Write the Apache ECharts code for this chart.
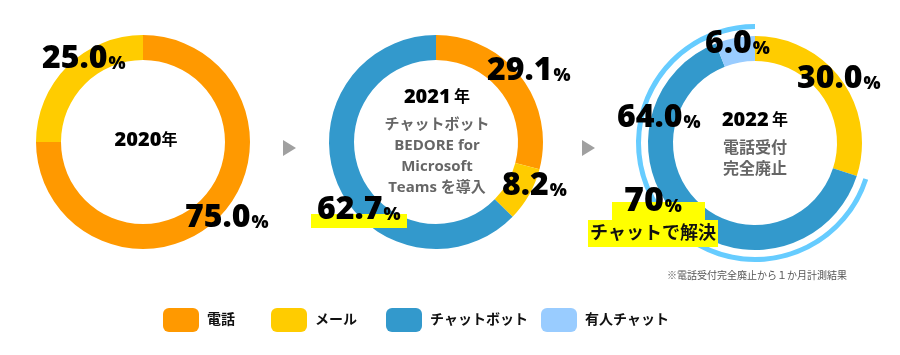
<!DOCTYPE html>
<html><head><meta charset="utf-8">
<script src="https://cdn.jsdelivr.net/npm/echarts@6/dist/echarts.min.js"></script>
<style>html,body{margin:0;padding:0;background:#fff}#c{width:900px;height:355px}</style>
</head><body><div id="c"></div>
<script>
// ---- data ----
const categories = ['電話', 'メール', 'チャットボット', '有人チャット'];
const colors = ['#FF9900', '#FFCC00', '#3399CC', '#99CCFF'];
const yearTitles = ['2020年', '2021 年', '2022 年'];
const share2020 = [75.0, 25.0, 0, 0];
const share2021 = [29.1, 8.2, 62.7, 0];
const share2022 = [0, 30.0, 64.0, 6.0];
const resolvedByChat2022 = 70;
const subtitle2021 = ['チャットボット', 'BEDORE for', 'Microsoft', 'Teams を導入'];
const subtitle2022 = ['電話受付', '完全廃止'];
const note2022 = '※電話受付完全廃止から１か月計測結果';
const resolvedText = 'チャットで解決';

// ---- layout ----
const FONT = '"Open Sans","Noto Sans CJK JP",sans-serif';
const centers = [[143, 142], [436, 142], [755, 143]];
const radius = [82, 107];
const shares = [share2020, share2021, share2022];
// label positions (left x, bottom y of digits) per pie per category
const labelPos = [
  [[185, 234], [42, 75]],
  [[487, 87], [502, 202], [317, 226]],
  [null, [797, 95], [617, 134], [705, 60]]
];
const legendLeft = [163, 271, 386, 541];

function pieData(arr) {
  const out = [];
  arr.forEach((v, i) => { if (v > 0) out.push({ name: categories[i], value: v, itemStyle: { color: colors[i] } }); });
  return out;
}

const series = shares.map((arr, k) => ({
  type: 'pie', center: centers[k], radius: radius, startAngle: 90, clockwise: true,
  label: { show: false }, labelLine: { show: false }, silent: true, animation: false,
  data: pieData(arr)
}));
// outer highlight arc: chat share in 2022
series.push({
  type: 'pie', center: centers[2], radius: [114, 119], clockwise: true, silent: true, animation: false,
  startAngle: 90 - 360 * share2022[1] / 100,
  label: { show: false }, labelLine: { show: false },
  data: [
    { name: 'chat-total', value: resolvedByChat2022, itemStyle: { color: '#66CCFF' } },
    { name: 'rest', value: 100 - resolvedByChat2022, itemStyle: { color: 'rgba(0,0,0,0)' } }
  ]
});

const graphics = [];
const rich = {
  n: { fontFamily: FONT, fontWeight: 800, fontSize: 32, color: '#111', verticalAlign: 'bottom', lineHeight: 32 },
  p: { fontFamily: FONT, fontWeight: 800, fontSize: 18, color: '#111', verticalAlign: 'bottom', lineHeight: 26, padding: [0, 0, 2, 1] }
};
// highlight rectangles
graphics.push({ type: 'rect', shape: { x: 311, y: 214, width: 96, height: 14 }, style: { fill: '#FFFF00' }, z: 10 });
graphics.push({ type: 'rect', shape: { x: 612, y: 202, width: 93, height: 20 }, style: { fill: '#FFFF00' }, z: 10 });
graphics.push({ type: 'rect', shape: { x: 588, y: 220, width: 130, height: 27 }, style: { fill: '#FFFF00' }, z: 10 });

labelPos.forEach((row, k) => {
  row.forEach((pos, i) => {
    if (!pos) return;
    graphics.push({
      type: 'text', x: pos[0], y: pos[1], z: 20,
      style: { text: '{n|' + shares[k][i].toFixed(1) + '}{p|%}', rich: rich, align: 'left', verticalAlign: 'bottom' }
    });
  });
});
// 70%
graphics.push({ type: 'text', x: 624, y: 218, z: 20,
  style: { text: '{n|' + resolvedByChat2022 + '}{p|%}', align: 'left', verticalAlign: 'bottom',
    rich: { n: Object.assign({}, rich.n, { fontSize: 34, lineHeight: 34 }), p: rich.p } } });
graphics.push({ type: 'text', x: 653, y: 234, z: 20,
  style: { text: resolvedText, font: 'bold 18px ' + FONT, fill: '#111', align: 'center', verticalAlign: 'middle' } });

// center titles
const titleRich = { a: { fontFamily: FONT, fontWeight: 800, fontSize: 20, color: '#111' }, b: { fontFamily: FONT, fontWeight: 'bold', fontSize: 16, color: '#111' } };
graphics.push({ type: 'text', x: centers[0][0] + 3, y: 140, z: 20,
  style: { text: '{a|2020}{b|年}', align: 'center', verticalAlign: 'middle', rich: titleRich } });
graphics.push({ type: 'text', x: 437, y: 97, z: 20,
  style: { text: '{a|2021} {b|年}', align: 'center', verticalAlign: 'middle', rich: titleRich } });
graphics.push({ type: 'text', x: 755, y: 120, z: 20,
  style: { text: '{a|2022} {b|年}', align: 'center', verticalAlign: 'middle', rich: titleRich } });
subtitle2021.forEach((t, i) => graphics.push({ type: 'text', x: 437, y: 125 + i * 21, z: 20,
  style: { text: t, font: 'bold 15px ' + FONT, fill: '#666', align: 'center', verticalAlign: 'middle' } }));
subtitle2022.forEach((t, i) => graphics.push({ type: 'text', x: 755, y: 148 + i * 21, z: 20,
  style: { text: t, font: 'bold 16px ' + FONT, fill: '#666', align: 'center', verticalAlign: 'middle' } }));
graphics.push({ type: 'text', x: 757, y: 276, z: 20,
  style: { text: note2022, font: '10px ' + FONT, fill: '#555', align: 'center', verticalAlign: 'middle' } });
// arrows
[[283, 148], [582, 148]].forEach(p => graphics.push({ type: 'polygon', z: 5,
  shape: { points: [[p[0], p[1] - 8], [p[0] + 13, p[1]], [p[0], p[1] + 8]] }, style: { fill: '#A0A0A0' } }));

const legends = categories.map((c, i) => ({
  data: [c], left: legendLeft[i], top: 308, itemWidth: 36, itemHeight: 24, padding: 0,
  icon: 'roundRect', selectedMode: false,
  textStyle: { fontFamily: FONT, fontWeight: 'bold', fontSize: 14, color: '#111', padding: [0, 0, 0, 3] }
}));

const chart = echarts.init(document.getElementById('c'), null, { renderer: 'canvas' });
chart.setOption({
  animation: false,
  legend: legends,
  series: series,
  graphic: graphics
});
</script></body></html>
